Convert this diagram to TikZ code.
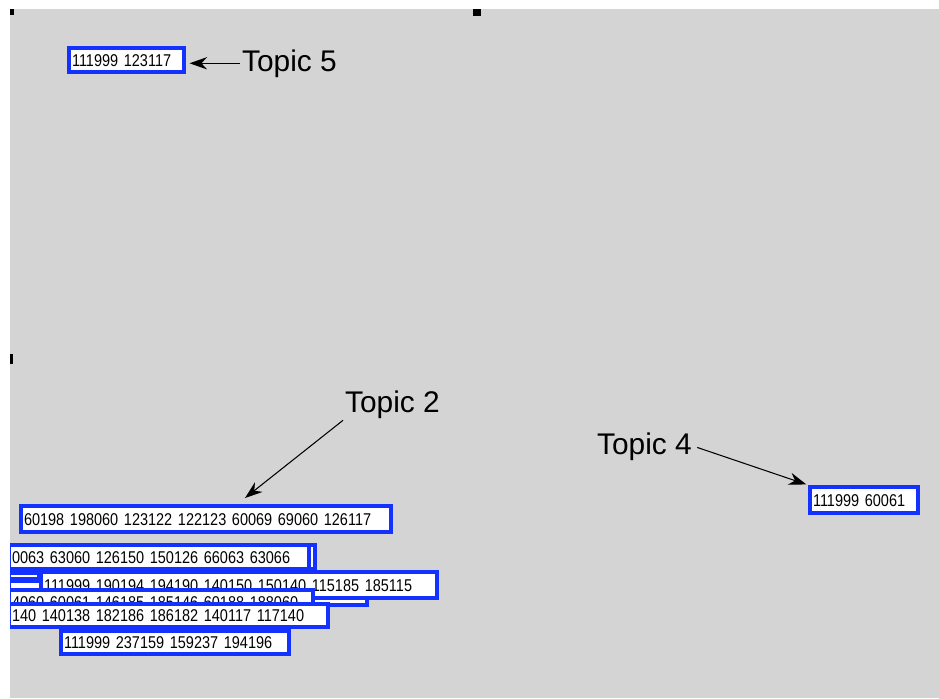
\documentclass[tikz,border=0pt]{standalone}
\usepackage{fontspec}
\setmainfont{Liberation Sans}
\newfontfamily\idfont[FakeStretch=0.85]{Liberation Sans}
\usetikzlibrary{arrows.meta}
\definecolor{idblue}{RGB}{20,50,255}
\definecolor{panelgray}{RGB}{212,212,212}
\tikzset{
  idbox/.style={draw=idblue, line width=2.3pt, fill=white, font=\idfont\fontsize{9.7}{12}\selectfont,
    inner xsep=0.06cm, inner ysep=0pt, text height=6.9pt, text depth=0pt, anchor=north west, align=left},
  stub/.style={draw=idblue, line width=2.3pt, fill=white, inner sep=0pt, anchor=north west},
  topic/.style={font=\fontsize{17}{20}\selectfont, inner sep=1pt, anchor=base west},
  pointer/.style={-{Stealth[length=10pt,width=7pt]}, line width=0.6pt}
}
\begin{document}
\begin{tikzpicture}[x=0.02cm,y=-0.02cm]
\useasboundingbox (0,0) rectangle (939,698);
\fill[panelgray] (10,9) rectangle (939,698);
\fill (10,9) rectangle (14,15);
\fill (473,9) rectangle (481,16);
\fill (10,354) rectangle (13,364);

\begin{scope}
\clip (10,9) rectangle (939,698);
\node[idbox, text width=2.18cm, minimum height=0.48cm] (b5) at (67,46) {111999 123117};
\node[idbox, text width=7.28cm, minimum height=0.52cm] (b2) at (19,504) {60198 198060 123122 122123 60069 69060 126117};
\node[idbox, text width=2.04cm, minimum height=0.52cm] (b4) at (808,485) {111999 60061};

\node[idbox, text width=6.00cm, minimum height=0.48cm] (aback) at (7,543) {};
\node[idbox, text width=5.88cm, minimum height=0.48cm] (a) at (7,543) {0063 63060 126150 150126 66063 63066};
\node[stub, minimum width=0.60cm, minimum height=0.12cm] (f1) at (7,571) {};
\node[stub, minimum width=0.60cm, minimum height=0.12cm] (f2) at (7,580) {};
\node[idbox, text width=7.04cm, minimum height=0.48cm] (cback) at (7,579) {};
\node[idbox, text width=7.80cm, minimum height=0.52cm] (b) at (39,570) {111999 190194 194190 140150 150140 115185 185115};
\node[idbox, text width=5.96cm, minimum height=0.48cm] (c) at (7,588) {4060 60061 146185 185146 60188 188060};
\node[idbox, text width=6.26cm, minimum height=0.46cm] (d) at (7,602) {140 140138 182186 186182 140117 117140};
\node[idbox, text width=4.44cm, minimum height=0.46cm] (e) at (59,629) {111999 237159 159237 194196};
\end{scope}

\node[topic] (t5) at (240,71) {Topic 5};
\node[topic] (t2) at (343,412) {Topic 2};
\node[topic] (t4) at (595,454) {Topic 4};

\draw[pointer, shorten >=2pt] (t5.west) -- (t5.west -| b5.east);
\draw[pointer] (t2.south west) -- ([xshift=0.78cm,yshift=0.12cm]b2.north);
\draw[pointer, shorten <=2pt, shorten >=1pt] (t4.east) -- (b4.north west);
\end{tikzpicture}
\end{document}
